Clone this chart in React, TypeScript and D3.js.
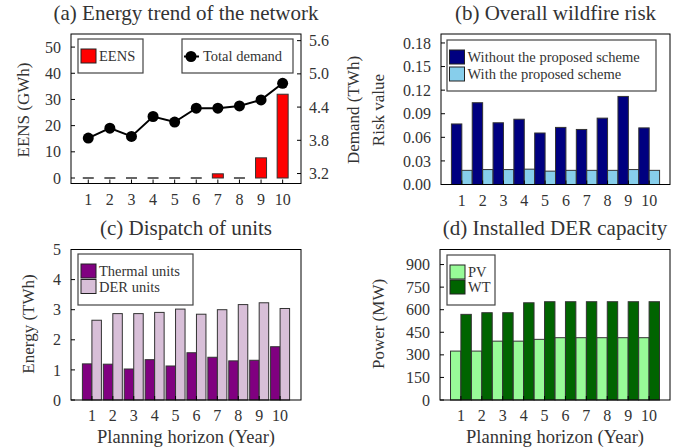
import React, { useEffect, useRef } from "react";
import * as d3 from "d3";

const years = [1, 2, 3, 4, 5, 6, 7, 8, 9, 10];
const eens = [0, 0, 0, 0, 0, 0, 1.6, 0, 7.7, 32];
const demand = [3.84, 4.02, 3.87, 4.23, 4.13, 4.38, 4.38, 4.42, 4.53, 4.83];
const riskWithout = [0.077, 0.104, 0.0785, 0.083, 0.0655, 0.0726, 0.07, 0.0844, 0.112, 0.072];
const riskWith = [0.018, 0.019, 0.019, 0.0195, 0.017, 0.018, 0.018, 0.018, 0.019, 0.018];
const thermal = [1.2, 1.19, 1.03, 1.34, 1.13, 1.57, 1.42, 1.3, 1.32, 1.77];
const der = [2.65, 2.87, 2.87, 2.91, 3.02, 2.85, 3.0, 3.17, 3.23, 3.04];
const pv = [325, 325, 391, 391, 403, 414, 414, 414, 414, 414];
const wt = [569, 580, 580, 646, 653, 653, 653, 653, 653, 653];

const eensTicks = [0, 10, 20, 30, 40, 50];
const demandTicks = [3.2, 3.8, 4.4, 5.0, 5.6];
const riskTicks = [0, 0.03, 0.06, 0.09, 0.12, 0.15, 0.18];
const energyTicks = [0, 1, 2, 3, 4, 5];
const powerTicks = [0, 150, 300, 450, 600, 750, 900];

const FONT = "'Liberation Serif', serif";
const TXT = "#333";

const App = () => {
    const svgRef = useRef();

    useEffect(() => {
        const svg = d3.select(svgRef.current);
        svg.selectAll("*").remove();

        // frame + inward ticks
        const frame = (g, x, y, yTicks, fmt, yRight?, rTicks?, rFmt?) => {
            const [x0, x1] = x.range();
            const [y1, y0] = y.range();
            g.append("rect").attr("x", x0).attr("y", y0).attr("width", x1 - x0).attr("height", y1 - y0)
                .attr("fill", "none").attr("stroke", "#000").attr("stroke-width", 1);
            yTicks.forEach(t => {
                g.append("line").attr("x1", x0).attr("x2", x0 + 4).attr("y1", y(t)).attr("y2", y(t)).attr("stroke", "#000");
                g.append("text").attr("x", x0 - 10).attr("y", y(t)).attr("dy", "0.35em").attr("text-anchor", "end")
                    .attr("font-size", 16).attr("fill", TXT).text(fmt(t));
            });
            if (yRight) {
                rTicks.forEach(t => {
                    g.append("line").attr("x1", x1).attr("x2", x1 - 4).attr("y1", yRight(t)).attr("y2", yRight(t)).attr("stroke", "#000");
                    g.append("text").attr("x", x1 + 8).attr("y", yRight(t)).attr("dy", "0.35em")
                        .attr("font-size", 16).attr("fill", TXT).text(rFmt(t));
                });
            }
            years.forEach(t => {
                g.append("line").attr("x1", x(t)).attr("x2", x(t)).attr("y1", y1).attr("y2", y1 - 4).attr("stroke", "#000");
                g.append("text").attr("x", x(t)).attr("y", y1 + 21).attr("text-anchor", "middle")
                    .attr("font-size", 16).attr("fill", TXT).text(t);
            });
        };

        const title = (g, x, yPos, label) => {
            const [x0, x1] = x.range();
            g.append("text").attr("x", (x0 + x1) / 2).attr("y", yPos).attr("text-anchor", "middle")
                .attr("font-size", 21).attr("fill", TXT).text(label);
        };

        const vlabel = (g, xPos, yc, label) => {
            g.append("text").attr("transform", `translate(${xPos},${yc}) rotate(-90)`).attr("text-anchor", "middle")
                .attr("font-size", 17).attr("fill", TXT).text(label);
        };

        const legendBox = (g, x, y, w, h) => {
            g.append("rect").attr("x", x).attr("y", y).attr("width", w).attr("height", h)
                .attr("fill", "#fff").attr("stroke", "#444").attr("stroke-width", 1.2);
        };

        const legendRow = (g, x, y, color, label) => {
            g.append("rect").attr("x", x).attr("y", y).attr("width", 15).attr("height", 14)
                .attr("fill", color).attr("stroke", "#222");
            g.append("text").attr("x", x + 18).attr("y", y + 12).attr("font-size", 14.5).attr("fill", TXT).text(label);
        };

        const bar = (g, xLeft, w, y, v, color) => {
            if (v === 0) {
                g.append("line").attr("x1", xLeft).attr("x2", xLeft + w).attr("y1", y(0)).attr("y2", y(0))
                    .attr("stroke", "#111").attr("stroke-width", 1.3);
                return;
            }
            g.append("rect").attr("x", xLeft).attr("y", y(v)).attr("width", w).attr("height", y(0) - y(v))
                .attr("fill", color).attr("stroke", "#333");
        };

        const pairBars = (g, x, y, a, b, ca, cb, w) => {
            years.forEach((t, i) => {
                bar(g, x(t) - w, w, y, a[i], ca);
                bar(g, x(t), w, y, b[i], cb);
            });
        };

        const root = svg.append("g").attr("font-family", FONT);

        // (a)
        {
            const g = root.append("g");
            const x = d3.scaleLinear().domain([0.2, 10.85]).range([71, 301]);
            const y = d3.scaleLinear().domain([-2.1, 55]).range([183.5, 34]);
            const yr = d3.scaleLinear().domain([3.02, 5.72]).range([183.5, 34]);
            legendBox(g, 78, 39, 65, 34);
            legendRow(g, 81, 49, "#ff0000", "EENS");
            legendBox(g, 182, 39, 111, 34);
            g.append("line").attr("x1", 184).attr("x2", 199).attr("y1", 56.5).attr("y2", 56.5).attr("stroke", "#000").attr("stroke-width", 2);
            g.append("circle").attr("cx", 191).attr("cy", 56.5).attr("r", 5.5).attr("fill", "#000");
            g.append("text").attr("x", 203).attr("y", 61).attr("font-size", 14.5).attr("fill", TXT).text("Total demand");
            years.forEach((t, i) => bar(g, x(t) - 5.5, 11, y, eens[i], "#ff0000"));
            const line = d3.line().x((d, i) => x(years[i])).y(d => yr(d));
            g.append("path").datum(demand).attr("d", line).attr("fill", "none").attr("stroke", "#000").attr("stroke-width", 2);
            g.selectAll(".pt").data(demand).enter().append("circle")
                .attr("cx", (d, i) => x(years[i])).attr("cy", d => yr(d)).attr("r", 5.5).attr("fill", "#000");
            frame(g, x, y, eensTicks, d => d3.format("d")(d), yr, demandTicks, d => d3.format(".1f")(d));
            title(g, x, 20, "(a) Energy trend of the network");
            vlabel(g, 29, 110, "EENS (GWh)");
            vlabel(g, 359, 110, "Demand (TWh)");
        }

        // (b)
        {
            const g = root.append("g");
            const x = d3.scaleLinear().domain([0, 11]).range([441, 670]);
            const y = d3.scaleLinear().domain([0, 0.1914]).range([184.5, 34]);
            legendBox(g, 447, 40, 209, 51);
            legendRow(g, 449.5, 50, "#000080", "Without the proposed scheme");
            legendRow(g, 449.5, 67, "#87ceeb", "With the proposed scheme");
            pairBars(g, x, y, riskWithout, riskWith, "#000080", "#87ceeb", 10.4);
            frame(g, x, y, riskTicks, d => d3.format(".2f")(d));
            title(g, x, 20, "(b) Overall wildfire risk");
            vlabel(g, 384, 110, "Risk value");
        }

        // (c)
        {
            const g = root.append("g");
            const x = d3.scaleLinear().domain([0, 11]).range([71, 301]);
            const y = d3.scaleLinear().domain([0, 5]).range([400, 249.5]);
            legendBox(g, 78, 254, 115, 51);
            legendRow(g, 81, 264, "#800080", "Thermal units");
            legendRow(g, 81, 279.5, "#d8bfd8", "DER units");
            pairBars(g, x, y, thermal, der, "#800080", "#d8bfd8", 9.5);
            frame(g, x, y, energyTicks, d => d3.format("d")(d));
            title(g, x, 235, "(c) Dispatch of units");
            vlabel(g, 34, 324, "Energy (TWh)");
            g.append("text").attr("x", 186).attr("y", 443).attr("text-anchor", "middle").attr("font-size", 18.5).attr("fill", TXT)
                .text("Planning horizon (Year)");
        }

        // (d)
        {
            const g = root.append("g");
            const x = d3.scaleLinear().domain([0, 11]).range([440, 670]);
            const y = d3.scaleLinear().domain([0, 1000]).range([400, 249.5]);
            legendBox(g, 447, 255, 48, 50);
            legendRow(g, 450, 265, "#98fb98", "PV");
            legendRow(g, 450, 280, "#006400", "WT");
            pairBars(g, x, y, pv, wt, "#98fb98", "#006400", 10.4);
            frame(g, x, y, powerTicks, d => d3.format("d")(d));
            title(g, x, 235, "(d) Installed DER capacity");
            vlabel(g, 384, 324, "Power (MW)");
            g.append("text").attr("x", 555).attr("y", 443).attr("text-anchor", "middle").attr("font-size", 18.5).attr("fill", TXT)
                .text("Planning horizon (Year)");
        }
    }, []);

    return (
        <svg ref={svgRef} width={686} height={448}
            style={{ position: "absolute", left: 0, top: 0, background: "#fff" }} />
    );
};

export default App;
